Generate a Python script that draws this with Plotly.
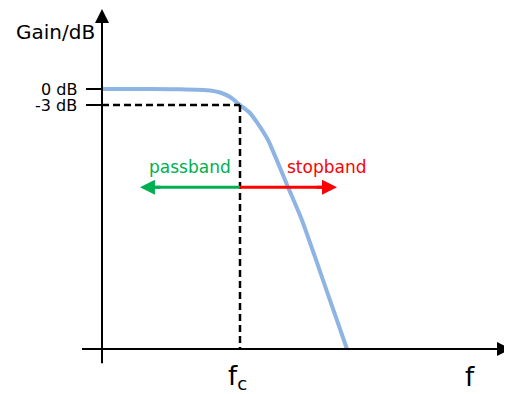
import plotly.graph_objects as go

# low-pass response sketch, frequency normalised to f_c, gain in dB
freq_ratio = [0.0, 0.348, 0.565, 0.783, 0.855, 0.928, 1.0, 1.072, 1.145, 1.203,
              1.348, 1.449, 1.616, 1.775]
gain_db = [0.0, 0.0, -0.05, -0.28, -0.66, -1.5, -3.0, -4.5, -7.1, -9.56,
           -18.4, -24.6, -36.9, -48.75]

gain_ticks = [0, -3]
gain_tick_text = ["0 dB", "-3 dB"]
fc = 1.0
f_axis_level = -48.75
band_arrow_level = -18.4

FONT = "DejaVu Sans"
GREEN = "#00B050"
RED = "#FF0000"

fig = go.Figure()

fig.add_trace(go.Scatter(
    x=freq_ratio,
    y=gain_db,
    mode="lines",
    line=dict(color="#8EB4E3", width=4, shape="spline", smoothing=0.6),
    hoverinfo="skip",
    showlegend=False,
))

# axes drawn by hand, arrowheads via annotations
fig.add_shape(type="line", x0=0, x1=0, y0=-51.4, y1=14.0, line=dict(color="black", width=2))
fig.add_shape(type="line", x0=-0.145, x1=2.9, y0=f_axis_level, y1=f_axis_level,
              line=dict(color="black", width=2))

for g in gain_ticks:
    fig.add_shape(type="line", x0=-0.116, x1=0, y0=g, y1=g, line=dict(color="black", width=2))

# -3 dB / f_c guide lines
fig.add_shape(type="line", x0=0, x1=fc, y0=-3, y1=-3,
              line=dict(color="black", width=2.5, dash="7px,4px"))
fig.add_shape(type="line", x0=fc, x1=fc, y0=-3, y1=f_axis_level,
              line=dict(color="black", width=2.5, dash="7px,4px"))

# passband / stopband arrows
fig.add_shape(type="line", x0=0.33, x1=fc, y0=band_arrow_level, y1=band_arrow_level,
              line=dict(color=GREEN, width=3))
fig.add_shape(type="line", x0=fc, x1=1.65, y0=band_arrow_level, y1=band_arrow_level,
              line=dict(color=RED, width=3))


def head(x, y, ax, ay, color, width, size):
    fig.add_annotation(x=x, y=y, ax=ax, ay=ay, text="", showarrow=True,
                       arrowhead=2, arrowwidth=width, arrowsize=size, arrowcolor=color)


head(0, 15.0, 0, 22, "black", 2, 1.4)
head(2.964, f_axis_level, -22, 0, "black", 2, 1.4)
head(0.275, band_arrow_level, 22, 0, GREEN, 3, 1.0)
head(1.703, band_arrow_level, -22, 0, RED, 3, 1.0)

# labels
fig.add_annotation(x=-0.34, y=10.7, text="Gain/dB", showarrow=False,
                   font=dict(family=FONT, size=20, color="black"))
for g, t in zip(gain_ticks, gain_tick_text):
    fig.add_annotation(x=-0.17, y=g, text=t, showarrow=False, xanchor="right",
                       font=dict(family=FONT, size=16, color="black"))

fig.add_annotation(x=0.638, y=-14.6, text="passband", showarrow=False,
                   font=dict(family=FONT, size=17, color=GREEN))
fig.add_annotation(x=1.63, y=-14.6, text="stopband", showarrow=False,
                   font=dict(family=FONT, size=17, color=RED))

fig.add_annotation(x=0.98, y=-54.0, text="f<sub>c</sub>", showarrow=False,
                   font=dict(family=FONT, size=26, color="black"))
fig.add_annotation(x=2.667, y=-54.0, text="f", showarrow=False,
                   font=dict(family=FONT, size=26, color="black"))

# the page puts the figure 8px in from the top-left corner
fig.update_xaxes(range=[-0.6812, 2.971], visible=False)
fig.update_yaxes(range=[-57.1875, 15.1875], visible=False)
fig.update_layout(
    width=504,
    height=386,
    margin=dict(l=0, r=0, t=0, b=0),
    plot_bgcolor="white",
    paper_bgcolor="white",
)

fig.write_html("out.html")
